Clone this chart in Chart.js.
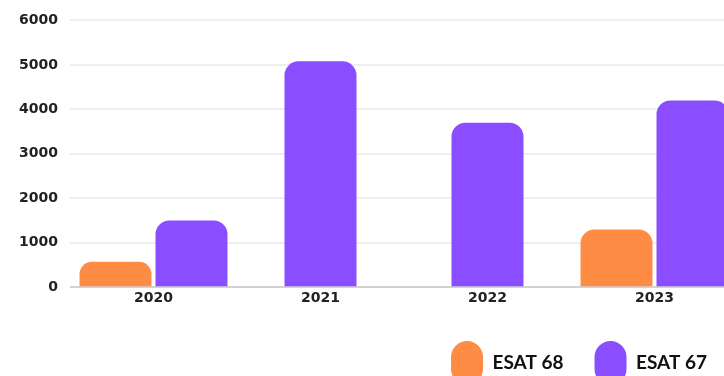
<!DOCTYPE html>
<html>
<head>
<meta charset="utf-8">
<script src="https://cdn.jsdelivr.net/npm/chart.js@4/dist/chart.umd.min.js"></script>
<style>
  html, body { margin: 0; padding: 0; background: #ffffff; overflow: hidden; }
  #wrap { width: 724px; height: 376px; overflow: hidden; position: relative; }
  canvas { display: block; }
</style>
</head>
<body>
<div id="wrap"><canvas id="chart" width="738" height="395"></canvas></div>
<script>
// Yearly figures for the two ESAT sites
const years = ['2020', '2021', '2022', '2023'];
const esat68 = [570, null, null, 1300];
const esat67 = [1500, 5080, 3700, 4200];
const seriesNames = ['ESAT 68', 'ESAT 67'];
const yTicks = [0, 1000, 2000, 3000, 4000, 5000, 6000];

const ORANGE = '#ff8c45';
const PURPLE = '#8a4dff';

const barStyle = {
  categoryPercentage: 0.91,
  barPercentage: 0.947,
  maxBarThickness: 72,
  borderWidth: 0,
  borderSkipped: 'bottom',
  borderRadius: { topLeft: 14, topRight: 14, bottomLeft: 0, bottomRight: 0 }
};

new Chart(document.getElementById('chart'), {
  type: 'bar',
  data: {
    labels: years,
    datasets: [
      Object.assign({ label: seriesNames[0], data: esat68, backgroundColor: ORANGE }, barStyle),
      Object.assign({ label: seriesNames[1], data: esat67, backgroundColor: PURPLE }, barStyle)
    ]
  },
  options: {
    responsive: false,
    animation: false,
    skipNull: true,
    layout: { padding: { left: 16, top: 12, right: 0, bottom: 0 } },
    plugins: {
      tooltip: { enabled: false },
      legend: {
        position: 'bottom',
        align: 'end',
        labels: {
          boxWidth: 32,
          boxHeight: 44,
          useBorderRadius: true,
          borderRadius: 16,
          padding: 31,
          color: '#111111',
          font: { family: 'Lato', size: 19, weight: 'bold' }
        }
      }
    },
    scales: {
      x: {
        grid: { display: false, drawTicks: false },
        border: { display: false },
        ticks: {
          padding: 3,
          color: '#222222',
          font: { family: 'DejaVu Sans', size: 14, weight: 'bold' }
        }
      },
      y: {
        min: 0,
        max: 6000,
        afterBuildTicks: (scale) => { scale.ticks = yTicks.map(v => ({ value: v })); },
        afterFit: (scale) => { scale.width = 54; },
        border: { display: false },
        grid: {
          drawTicks: false,
          lineWidth: 2,
          color: (ctx) => (ctx.tick && ctx.tick.value === 0) ? '#d2d2d2' : '#eeeeee'
        },
        ticks: {
          padding: 12,
          color: '#222222',
          font: { family: 'DejaVu Sans', size: 14, weight: 'bold' },
          callback: (v) => String(v)
        }
      }
    }
  }
});
</script>
</body>
</html>
